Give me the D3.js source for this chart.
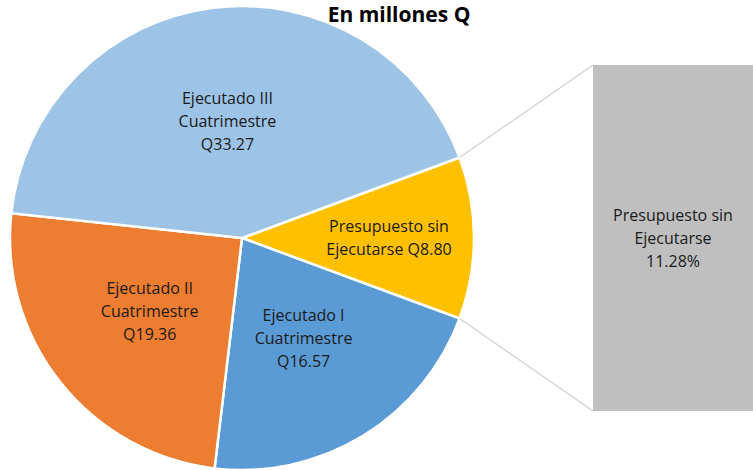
<!DOCTYPE html>
<html>
<head>
<meta charset="utf-8">
<script src="https://cdn.jsdelivr.net/npm/d3@7"></script>
<style>
  body { margin: 0; background: #fff; }
  text { font-family: "Open Sans", "Noto Sans", sans-serif; fill: #1a1a1a; }
</style>
</head>
<body>
<div id="chart"></div>
<script>
// slices in the order Excel draws them (starting with the split-off slice)
var categories = ["Presupuesto sin|Ejecutarse", "Ejecutado I|Cuatrimestre", "Ejecutado II|Cuatrimestre", "Ejecutado III|Cuatrimestre"];
var values = [8.80, 16.57, 19.36, 33.27];
var colors = ["#FFC000", "#5B9BD5", "#ED7D31", "#9DC3E6"];
var title = "En millones Q";

var width = 753, height = 470;
var cx = 242, cy = 238, radius = 232;

var svg = d3.select("#chart").append("svg")
    .attr("width", width)
    .attr("height", height);

var total = d3.sum(values);
var splitAngle = values[0] / total * 2 * Math.PI;

var pie = d3.pie()
    .sort(null)
    .value(function(d) { return d; })
    .startAngle(Math.PI / 2 - splitAngle / 2)
    .endAngle(Math.PI / 2 - splitAngle / 2 + 2 * Math.PI);

var arc = d3.arc().innerRadius(0).outerRadius(radius);
var labelArc = d3.arc().innerRadius(118).outerRadius(118);
var smallLabelArc = d3.arc().innerRadius(147).outerRadius(147);

var arcs = pie(values);

var g = svg.append("g").attr("transform", "translate(" + cx + "," + cy + ")");

g.selectAll(".slice")
    .data(arcs)
  .enter().append("path")
    .attr("class", "slice")
    .attr("d", arc)
    .attr("fill", function(d, i) { return colors[i]; })
    .attr("stroke", "#fff")
    .attr("stroke-width", 2.5);

// bar of the split slice
var barX = d3.scaleLinear().domain([0, 1]).range([593, 753]);
var barY = d3.scaleLinear().domain([0, values[0]]).range([411, 65]);

// connector lines from the split slice to the bar
var a0 = arcs[0].startAngle, a1 = arcs[0].endAngle;
var p0 = [cx + radius * Math.sin(a0), cy - radius * Math.cos(a0)];
var p1 = [cx + radius * Math.sin(a1), cy - radius * Math.cos(a1)];
svg.append("line")
    .attr("x1", p0[0]).attr("y1", p0[1])
    .attr("x2", barX(0)).attr("y2", barY(values[0]))
    .attr("stroke", "#D0D0D0").attr("stroke-width", 1.3);
svg.append("line")
    .attr("x1", p1[0]).attr("y1", p1[1])
    .attr("x2", barX(0)).attr("y2", barY(0))
    .attr("stroke", "#D0D0D0").attr("stroke-width", 1.3);

svg.append("rect")
    .attr("x", barX(0))
    .attr("y", barY(values[0]))
    .attr("width", barX(1) - barX(0))
    .attr("height", barY(0) - barY(values[0]))
    .attr("fill", "#BFBFBF");

// pie labels
function addLabel(x, y, lines) {
  var t = svg.append("text")
      .attr("text-anchor", "middle")
      .attr("font-size", "16px");
  var start = -(lines.length - 1) / 2 * 23;
  lines.forEach(function(l, i) {
    t.append("tspan")
        .attr("x", x)
        .attr("y", y + start + i * 23)
        .attr("dy", "0.35em")
        .text(l);
  });
}

arcs.forEach(function(d, i) {
  var c = (i === 0 ? smallLabelArc : labelArc).centroid(d);
  var parts = categories[i].split("|");
  var val = "Q" + values[i].toFixed(2);
  var lines;
  if (i === 0) lines = [parts[0], parts[1] + " " + val];
  else lines = [parts[0], parts[1], val];
  addLabel(cx + c[0], cy + c[1], lines);
});

// bar label
var bp = categories[0].split("|");
addLabel((barX(0) + barX(1)) / 2, (barY(0) + barY(values[0])) / 2,
  [bp[0], bp[1], (values[0] / total * 100).toFixed(2) + "%"]);

svg.append("text")
    .attr("x", 399)
    .attr("y", 22)
    .attr("text-anchor", "middle")
    .attr("font-size", "21px")
    .attr("font-weight", "bold")
    .style("fill", "#000")
    .text(title);
</script>
</body>
</html>
